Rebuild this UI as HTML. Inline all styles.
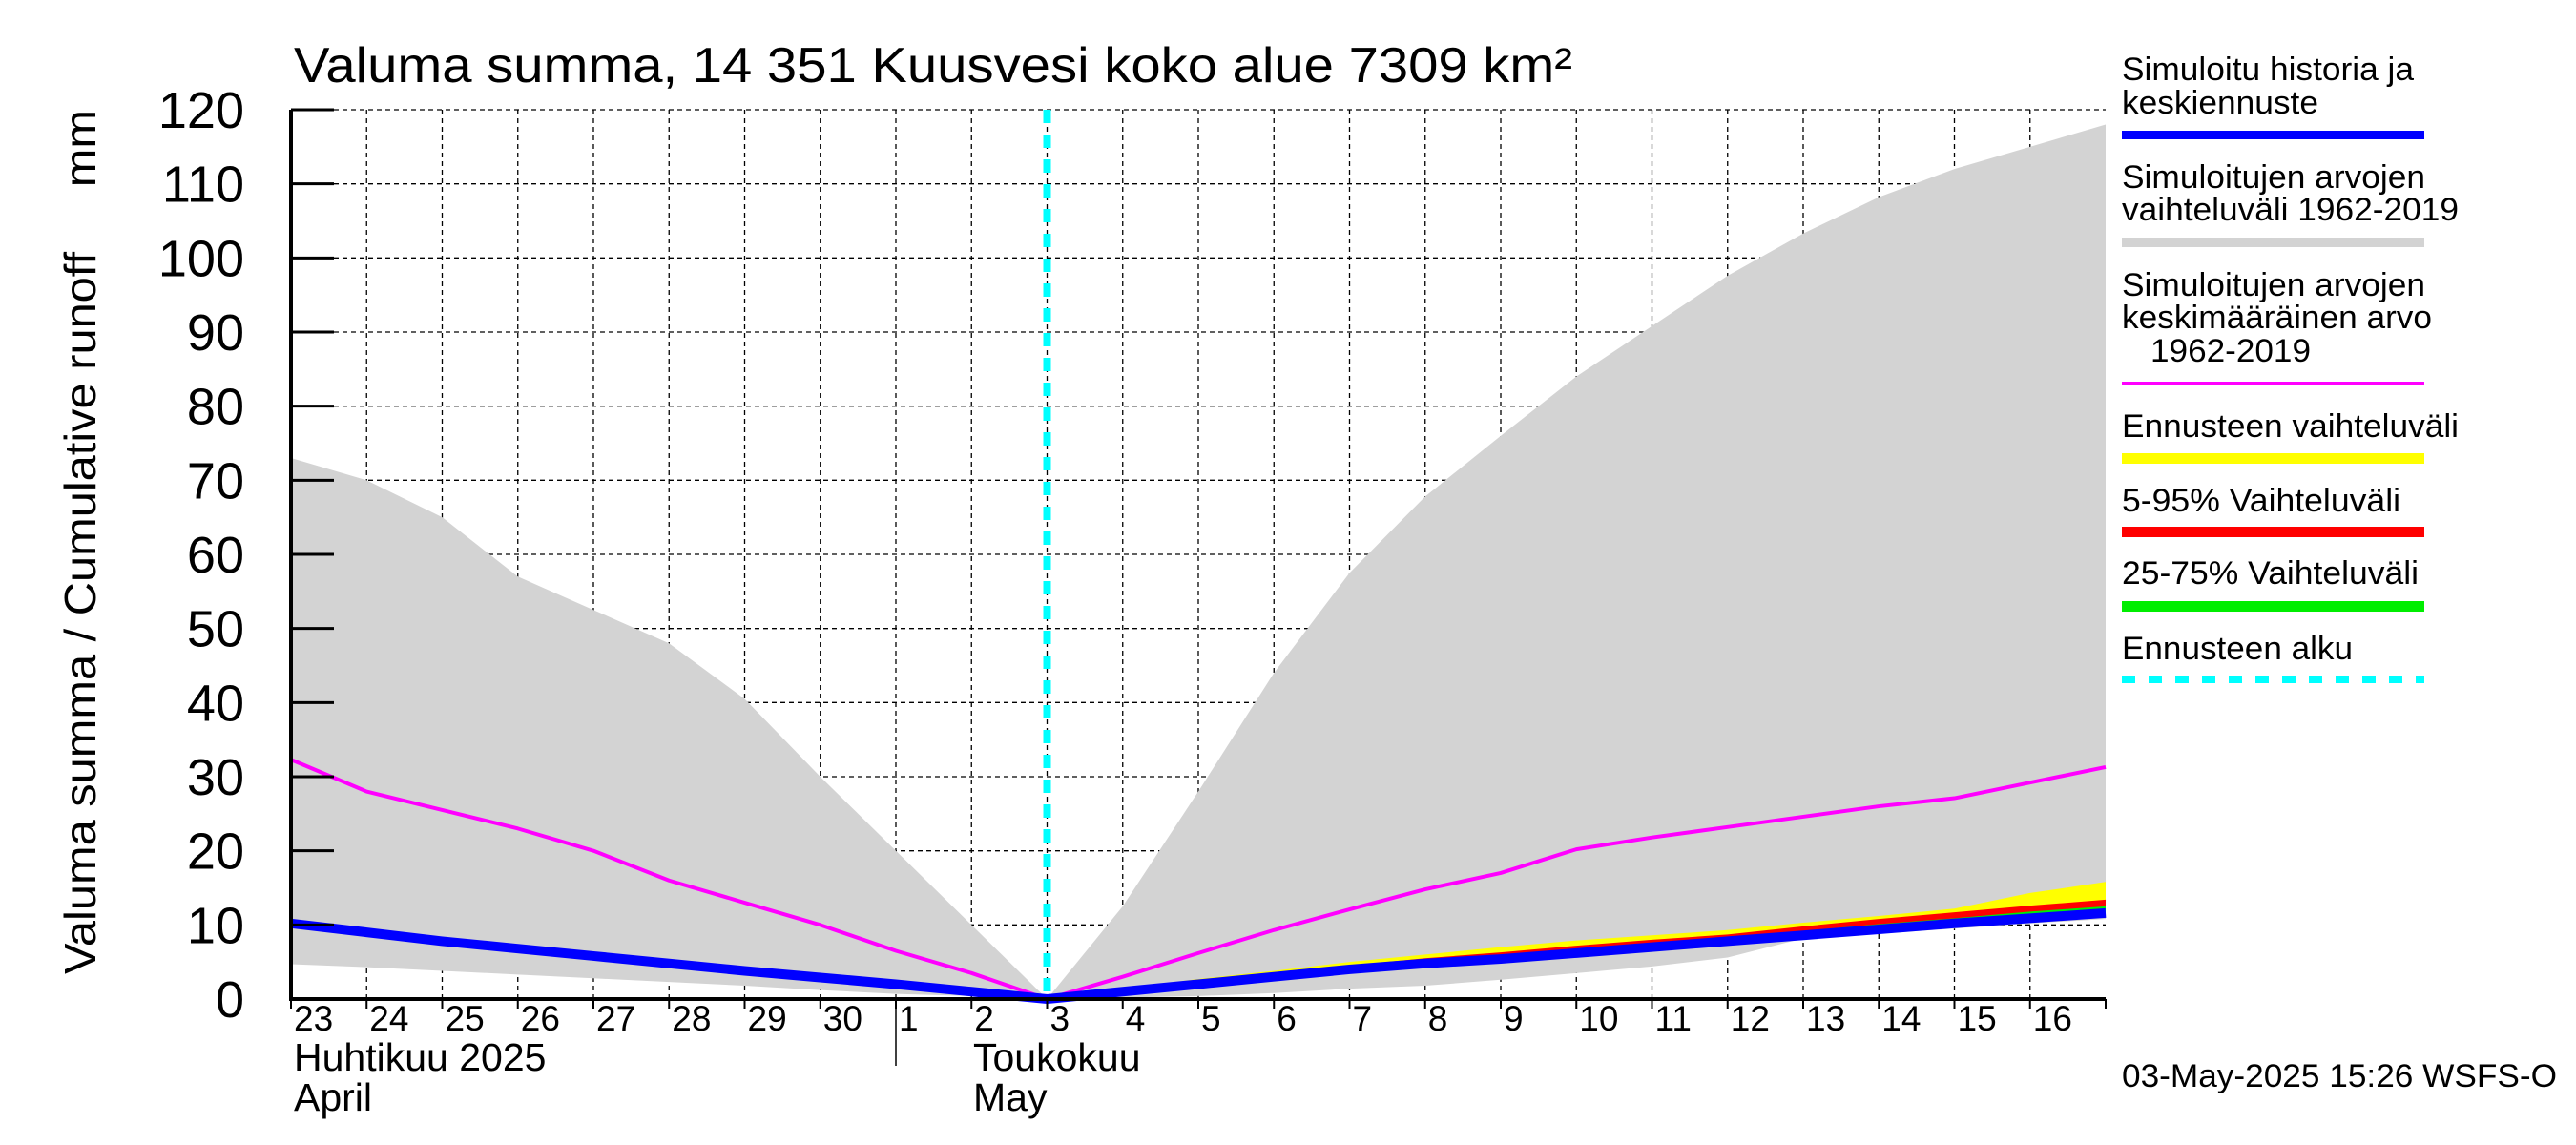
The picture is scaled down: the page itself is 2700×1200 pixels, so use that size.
<!DOCTYPE html>
<html><head><meta charset="utf-8"><style>
html,body{margin:0;padding:0;background:#fff}
svg{display:block;font-family:"Liberation Sans",Arial,sans-serif}
</style></head><body>
<svg id="chart" xmlns="http://www.w3.org/2000/svg" width="2700" height="1200" viewBox="0 0 2700 1200">
<g id="grid"></g>
<g id="series"></g>
<g id="axes"></g>
<text x="308" y="86" font-size="52" textLength="1340" lengthAdjust="spacingAndGlyphs">Valuma summa, 14 351 Kuusvesi koko alue 7309 km²</text>
<text transform="translate(100,1021) rotate(-90)" font-size="46" textLength="906" lengthAdjust="spacingAndGlyphs" xml:space="preserve">Valuma summa / Cumulative runoff     mm</text>
<g font-size="34">
<text x="2224" y="84" textLength="306" lengthAdjust="spacingAndGlyphs">Simuloitu historia ja</text>
<text x="2224" y="119" textLength="206" lengthAdjust="spacingAndGlyphs">keskiennuste</text>
<rect x="2224" y="137" width="317" height="9" fill="#0000ff"/>
<text x="2224" y="197" textLength="318" lengthAdjust="spacingAndGlyphs">Simuloitujen arvojen</text>
<text x="2224" y="231" textLength="353" lengthAdjust="spacingAndGlyphs">vaihteluväli 1962-2019</text>
<rect x="2224" y="249" width="317" height="10" fill="#d3d3d3"/>
<text x="2224" y="310" textLength="318" lengthAdjust="spacingAndGlyphs">Simuloitujen arvojen</text>
<text x="2224" y="344" textLength="325" lengthAdjust="spacingAndGlyphs">keskimääräinen arvo</text>
<text x="2254" y="379" textLength="168" lengthAdjust="spacingAndGlyphs">1962-2019</text>
<rect x="2224" y="400" width="317" height="4" fill="#ff00ff"/>
<text x="2224" y="458" textLength="353" lengthAdjust="spacingAndGlyphs">Ennusteen vaihteluväli</text>
<rect x="2224" y="475" width="317" height="11" fill="#ffff00"/>
<text x="2224" y="536" textLength="292" lengthAdjust="spacingAndGlyphs">5-95% Vaihteluväli</text>
<rect x="2224" y="552" width="317" height="11" fill="#ff0000"/>
<text x="2224" y="612" textLength="311" lengthAdjust="spacingAndGlyphs">25-75% Vaihteluväli</text>
<rect x="2224" y="630" width="317" height="11" fill="#00ee00"/>
<text x="2224" y="691" textLength="242" lengthAdjust="spacingAndGlyphs">Ennusteen alku</text>
<line x1="2224" y1="712" x2="2541" y2="712" stroke="#00ffff" stroke-width="8" stroke-dasharray="14,14"/>
</g>
<text x="2224" y="1139" font-size="34" textLength="456" lengthAdjust="spacingAndGlyphs">03-May-2025 15:26 WSFS-O</text>
<script>
const dayLabels=["23","24","25","26","27","28","29","30","1","2","3","4","5","6","7","8","9","10","11","12","13","14","15","16"];
const yTicks=[0,10,20,30,40,50,60,70,80,90,100,110,120];
const rangeMax=[73,70,65,57,52.5,48,40.5,30,20,10,0,12.5,28,44,57.5,67.8,76,84,90.8,97.6,103.3,108.2,112,115,118];
const rangeMin=[4.7,4.3,3.8,3.3,2.8,2.3,1.8,1.2,0.7,0.4,0,0.2,0.4,0.8,1.4,1.8,2.6,3.5,4.4,5.6,8.2,8.8,9.5,10.2,10.8];
const meanVals=[32.3,28,25.5,23,20,16,13,10,6.5,3.5,0,3,6.2,9.3,12.1,14.8,17,20.2,21.8,23.2,24.6,26,27.1,29.2,31.3];
const histVals=[10.2,9,7.8,6.8,5.8,4.8,3.8,2.9,2,1,0,1,2,3,4,4.8,5.4,6.2,7,7.8,8.6,9.4,10.2,10.9,11.6];
const fcIdx=[10,11,12,13,14,15,16,17,18,19,20,21,22,23,24];
const fcMax=[0,1.4,2.7,3.8,5,6,7,7.9,8.6,9.3,10.3,11.2,12.2,14.3,15.8];
const p95=[0,1.2,2.4,3.5,4.5,5.5,6.3,7.2,8,8.7,9.8,10.8,11.7,12.6,13.4];
const p75=[0,1.1,2.2,3.3,4.3,5.2,6,6.8,7.6,8.3,9.2,10.1,10.9,11.8,12.5];
const forecastStart=10;
const NS="http://www.w3.org/2000/svg";
const X0=305,X1=2207,Y0=1047,Y1=115;
const xs=i=>X0+(X1-X0)*i/24;
const ys=v=>Y0-(Y0-Y1)*v/120;
function el(t,a,p){const e=document.createElementNS(NS,t);for(const k in a)e.setAttribute(k,a[k]);p.appendChild(e);return e;}
const grid=document.getElementById('grid'),ser=document.getElementById('series'),ax=document.getElementById('axes');
for(let i=1;i<24;i++){const g=el('line',{x1:xs(i),x2:xs(i),y1:Y1,y2:Y0,stroke:'#000','stroke-width':1.3,'stroke-dasharray':'5,4'},grid);

}
yTicks.forEach(v=>{if(v===0)return;const g=el('line',{x1:X0,x2:X1,y1:ys(v),y2:ys(v),stroke:'#000','stroke-width':1.3,'stroke-dasharray':'5,4'},grid);

});
function band(up,lo,idx,fill,name){let d='';idx.forEach((i,k)=>{d+=(k?'L':'M')+xs(i)+','+ys(up[k]);});
for(let k=idx.length-1;k>=0;k--)d+='L'+xs(idx[k])+','+ys(lo[k]);
const p=el('path',{d:d+'Z',fill:fill},ser);

}
const all=rangeMax.map((_,i)=>i);
band(rangeMax,rangeMin,all,'#d3d3d3','historical-range-band');
const fcBase=fcIdx.map(i=>histVals[i]);
band(fcMax,fcBase,fcIdx,'#ffff00','forecast-range-band');
band(p95,fcBase,fcIdx,'#ff0000','p5-95-band');
band(p75,fcBase,fcIdx,'#00ee00','p25-75-band');
function line(vals,col,w,name){const d=vals.map((v,i)=>(i?'L':'M')+xs(i)+','+ys(v)).join('');
const p=el('path',{d:d,fill:'none',stroke:col,'stroke-width':w,'stroke-linejoin':'round'},ser);

}
line(meanVals,'#ff00ff',4,'mean-line');
line(histVals,'#0000ff',10,'history-forecast-line');
const fl=el('line',{x1:xs(forecastStart),x2:xs(forecastStart),y1:Y1,y2:Y0,stroke:'#00ffff','stroke-width':8,'stroke-dasharray':'14,12'},ser);


const a1=el('path',{d:`M${X0},${Y1}L${X0},${Y0}L${X1},${Y0}`,fill:'none',stroke:'#000','stroke-width':4},ax);


yTicks.forEach(v=>{const t=el('line',{x1:X0,x2:X0+45,y1:ys(v),y2:ys(v),stroke:'#000','stroke-width':3},ax);


const l=el('text',{x:256,y:ys(v)+19,'text-anchor':'end','font-size':54},ax);l.textContent=v;

});
for(let i=0;i<=24;i++){const t=el('line',{x1:xs(i),x2:xs(i),y1:Y0,y2:Y0+10,stroke:'#000','stroke-width':2},ax);

}
dayLabels.forEach((d,i)=>{const l=el('text',{x:xs(i)+3,y:1080,'font-size':37},ax);l.textContent=d;

});
const sep=el('line',{x1:xs(8),x2:xs(8),y1:Y0,y2:1117,stroke:'#000','stroke-width':1.5},ax);


[["Huhtikuu  2025",308,1122],["April",308,1164],["Toukokuu",1020,1122],["May",1020,1164]].forEach(m=>{
const l=el('text',{x:m[1],y:m[2],'font-size':41},ax);l.setAttribute('xml:space','preserve');l.textContent=m[0];

});
</script>
</svg>
</body></html>
